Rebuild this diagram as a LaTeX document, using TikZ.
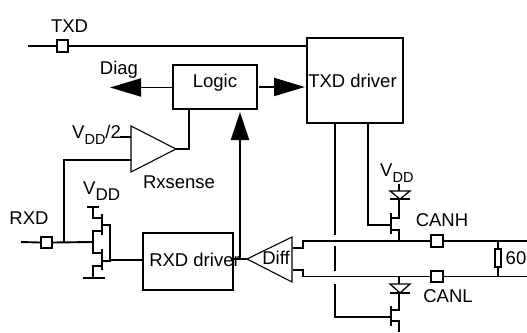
\documentclass[tikz,border=0pt]{standalone}
\usepackage{fontspec}
\setmainfont{Liberation Sans}
\usetikzlibrary{arrows.meta,calc}
\newcommand{\vddsized}[1]{V\raisebox{-5.5pt}{\fontsize{#1}{18}\selectfont DD}}
\tikzset{
  wire/.style={line width=1.9pt,line cap=butt,line join=miter},
  thinwire/.style={line width=1.1pt,line join=miter,draw=black},
  boxn/.style={draw,line width=2pt,inner sep=0pt,anchor=north west},
  pin/.style={draw,line width=1.9pt,fill=white,inner sep=0pt,minimum size=11.5pt},
  lbl/.style={inner sep=0pt,font=\fontsize{18.5}{20}\selectfont},
  bigarrow/.style={-{Triangle[length=31pt,width=18pt,sep=0pt]}},
  uparrow/.style={-{Triangle[length=28pt,width=18pt,sep=0pt]}},
  diode/.style={fill=white,draw,line width=1.3pt,line join=miter}
}
\begin{document}
\begin{tikzpicture}[x=1pt,y=-1pt]
\useasboundingbox (0,0) rectangle (527,332);
\fill[white] (0,0) rectangle (527,332);
% blocks
\node[boxn,minimum width=84pt,minimum height=44pt] (logic) at (172,64) {};
\node[boxn,minimum width=96pt,minimum height=85pt] (txd) at (306,37) {};
\node[boxn,minimum width=90pt,minimum height=57pt] (rxd) at (142,232) {};
\node[lbl] (logiclbl) at (215,83) {Logic};
\node[lbl] (txdlbl) at (352.5,81) {TXD driver};
\node[lbl] (rxdlbl) at (194.5,260) {RXD driver};
% free ends
\coordinate (txdin) at (28,46);
\coordinate (rxdin) at (21,242);
\coordinate (diagtip) at (110,87.5);
\coordinate (logicout) at (259,87);
\coordinate (txdarrow) at (305,87);
\coordinate (rxtip) at (176,149);
\coordinate (rxtop) at (131,126);
\coordinate (rxbot) at (131,172);
\coordinate (difftip) at (247,259);
\coordinate (difftop) at (292,237);
\coordinate (diffbot) at (292,282);
\coordinate (junc) at (64,242);
% TXD input
\node[pin] (txdpin) at (62.5,46) {};
\node[pin] (rxdpin) at (46.5,242.5) {};
\node[pin] (canh) at (437,241) {};
\node[pin] (canl) at (437,276.5) {};
\draw[wire] (txdin) -- (txdpin.west);
\draw[wire] (txdpin.east) -- (txdpin.east -| txd.west);
% logic connections
\draw[wire,bigarrow] (logic.west |- diagtip) -- (diagtip);
\draw[wire,bigarrow] (logicout) -- (txdarrow);
% Rxsense comparator
\draw[thinwire] (rxtop) -- (rxtip) -- (rxbot) -- cycle;
\draw[wire] (rxtip) -- (189,149) -- (189,108);
\draw[wire] (120,137) -- (131,137);
\draw[wire] (rxdpin.east) -- (93,242);
\draw[wire] (junc) -- (64,160) -- (131,160);
\draw[wire] (rxdpin.west) -- (rxdin);
% inverter
\draw[wire] (87,207) -- (99,207);
\draw[wire] (93,207) -- (93,218) -- (102,218);
\draw[wire] (102,214) -- (102,235);
\draw[wire] (102,225) -- (110,225) -- (110,261) -- (102,261);
\draw[wire] (102,249) -- (102,270);
\draw[wire] (102,231) -- (93,231) -- (93,253) -- (102,253);
\draw[wire] (102,266) -- (93,266) -- (93,278);
\draw[line width=2.8pt,draw=black] (83,278) -- (105,278);
\draw[wire] (110,260) -- (rxd.west |- 0,260);
% RXD driver to Diff, arrow to logic
\draw[wire] (rxd.east |- difftip) -- (difftip);
\draw[wire,uparrow] (240,259) -- (240,112);
% Diff
\draw[thinwire] (difftip) -- (difftop) -- (diffbot) -- cycle;
\node[lbl] (difflbl) at (276,258) {Diff};
% bus
\draw[wire] (293,248) -- (303,248) -- (303,241) -- (canh.west);
\draw[wire] (293,270) -- (303,270) -- (303,276.5) -- (canl.west);
\draw[wire] (canh.east) -- (527,241);
\draw[wire] (canl.east) -- (527,276.5);
% resistor
\node[draw,line width=1.6pt,fill=white,inner sep=0pt,minimum width=6.5pt,minimum height=18pt] (res) at (498,258) {};
\draw[wire] (498,241) -- (res.north);
\draw[wire] (res.south) -- (498,276.5);
% TXD driver outputs
\draw[wire] (335,122) -- (335,235);
\draw[wire] (335,246) -- (335,271);
\draw[wire] (335,284) -- (335,317) -- (391,317);
\draw[wire] (368,122) -- (368,225) -- (391,225);
% high-side transistor
\draw[wire] (391,213) -- (391,234);
\draw[wire] (391,218) -- (399,218) -- (399,184);
\draw[wire] (391,230) -- (399,230) -- (399,241);
\draw[diode] (390,191) -- (410,191) -- (400,199) -- cycle;
\draw[wire,line width=1.5pt] (390,199) -- (410,199);
% low-side transistor
\draw[wire] (399,276.5) -- (399,284);
\draw[diode] (390,284) -- (410,284) -- (400,293) -- cycle;
\draw[wire,line width=1.5pt] (390,293) -- (410,293);
\draw[wire] (399,293) -- (399,310) -- (391,310);
\draw[wire] (391,306) -- (391,326);
\draw[wire] (391,321) -- (399,321) -- (399,332);
% labels
\node[lbl] (ltxd) at (69.5,26) {TXD};
\node[lbl] (ldiag) at (119,69.5) {Diag};
\node[lbl,anchor=west] (lv2) at (72,135) {\vddsized{14.5}/2};
\node[lbl] (lrx) at (179,182) {Rxsense};
\node[lbl] (lrxd) at (29,218) {RXD};
\node[lbl,anchor=west] (lv1) at (83,191) {\vddsized{17}};
\node[lbl,anchor=west] (lv3) at (380,173) {\vddsized{14.5}};
\node[lbl] (lcanh) at (442,220) {CANH};
\node[lbl] (lcanl) at (448,296) {CANL};
\node[lbl] (l60) at (516,258) {60};
\end{tikzpicture}
\end{document}
